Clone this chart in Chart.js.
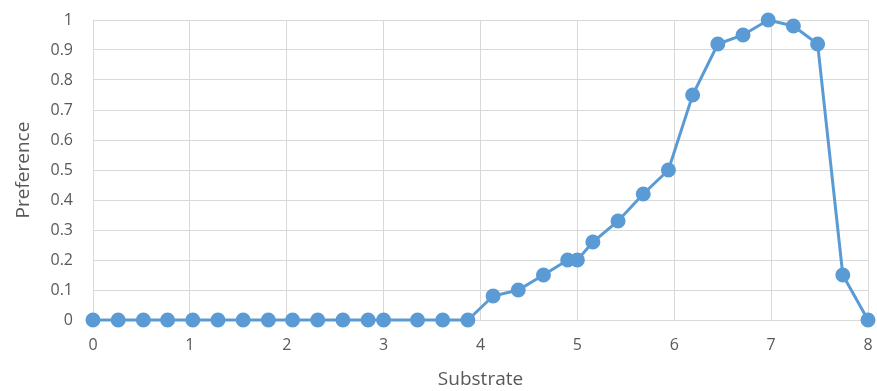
<!DOCTYPE html>
<html>
<head>
<meta charset="utf-8">
<script src="https://cdn.jsdelivr.net/npm/chart.js@4"></script>
<style>
  html, body { margin: 0; padding: 0; background: #fff; }
  #wrap { width: 877px; height: 391px; }
</style>
</head>
<body>
<div id="wrap"><canvas id="c" width="877" height="391"></canvas></div>
<script>
// substrate values (x) and preference (y)
const substrate = [0, 0.26, 0.52, 0.77, 1.03, 1.29, 1.55, 1.81, 2.06, 2.32, 2.58, 2.84, 3.0,
    3.35, 3.61, 3.87, 4.13, 4.39, 4.65, 4.9, 5.0, 5.16, 5.42, 5.68, 5.94, 6.19, 6.45, 6.71,
    6.97, 7.23, 7.48, 7.74, 8.0];
const preference = [0, 0, 0, 0, 0, 0, 0, 0, 0, 0, 0, 0, 0, 0, 0, 0,
    0.08, 0.1, 0.15, 0.2, 0.2, 0.26, 0.33, 0.42, 0.5, 0.75, 0.92, 0.95, 1.0, 0.98, 0.92, 0.15, 0];

const blue = 'rgb(91,155,213)';
const grey = '#595959';
const gridGrey = '#d9d9d9';
const tickFont = { family: 'Open Sans', size: 16 };
const titleFont = { family: 'Open Sans', size: 19 };

const points = substrate.map((x, i) => ({ x: x, y: preference[i] }));

new Chart(document.getElementById('c'), {
    type: 'scatter',
    data: {
        datasets: [{
            data: points,
            showLine: true,
            borderColor: blue,
            backgroundColor: blue,
            borderWidth: 3,
            pointRadius: 6,
            pointHoverRadius: 6,
            clip: false
        }]
    },
    options: {
        responsive: false,
        animation: false,
        layout: { padding: { left: 0, right: 7, top: 20, bottom: 0 } },
        plugins: { legend: { display: false }, tooltip: { enabled: false } },
        scales: {
            x: {
                type: 'linear', min: 0, max: 8,
                ticks: { stepSize: 1, color: grey, font: tickFont, padding: 16 },
                grid: { color: gridGrey, lineWidth: 1, drawTicks: false },
                border: { color: gridGrey },
                title: { display: true, text: 'Substrate', color: grey, font: titleFont, padding: { top: 0, bottom: 0 } },
                afterFit: function (axis) {
                    axis.height = 71;
                    axis.paddingLeft = 0;
                    axis.paddingRight = 0;
                }
            },
            y: {
                min: 0, max: 1,
                ticks: {
                    stepSize: 0.1, color: grey, font: tickFont, padding: 20,
                    callback: function (v) { return String(+v.toFixed(1)); }
                },
                grid: { color: gridGrey, lineWidth: 1, drawTicks: false },
                border: { color: gridGrey },
                title: { display: true, text: 'Preference', color: grey, font: titleFont, padding: { top: 12, bottom: 0 } },
                afterFit: function (axis) {
                    axis.width = 93;
                    axis.paddingTop = 0;
                    axis.paddingBottom = 0;
                }
            }
        }
    }
});
</script>
</body>
</html>
